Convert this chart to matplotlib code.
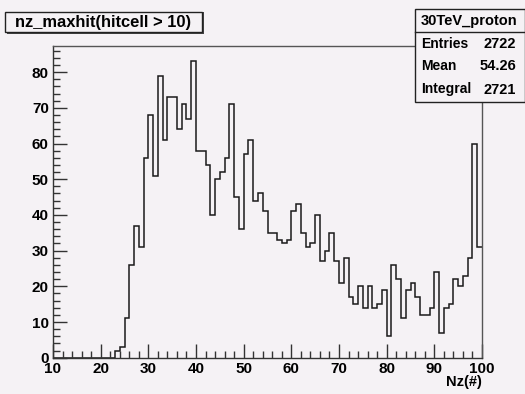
import numpy as np
import matplotlib
matplotlib.use("Agg")
import matplotlib.pyplot as plt
from matplotlib.patches import Rectangle
from matplotlib.lines import Line2D
from matplotlib.ticker import MultipleLocator

# -------- DATA --------
bin_edges = np.arange(10, 101, 1)
counts = [0] * 13 + [
    2, 3, 11, 26, 37, 31, 56, 68, 51, 79,
    61, 73, 73, 64, 71, 67, 83, 58, 58, 54,
    40, 50, 52, 56, 71, 45, 36, 57, 61, 44,
    46, 41, 35, 35, 33, 32, 33, 41, 43, 35,
    31, 32, 40, 27, 30, 35, 27, 21, 28, 17,
    15, 20, 14, 20, 14, 15, 19, 6, 26, 22,
    11, 19, 21, 17, 12, 12, 14, 24, 7, 14,
    15, 22, 20, 23, 28, 60, 31,
]
hist_title = "nz_maxhit(hitcell > 10)"
stats_name = "30TeV_proton"
stats_labels = ["Entries", "Mean", "Integral"]
stats_values = ["2722", "54.26", "2721"]
x_label = "Nz(#)"

BG = "#f5f2f5"
W, H = 525, 394
FONT = "Liberation Sans"


def fx(px):
    return px / W


def fy(py):
    return 1 - py / H


fig = plt.figure(figsize=(W / 100, H / 100), dpi=100, facecolor=BG)

# -------- HISTOGRAM --------
ax = fig.add_axes([fx(53), fy(357.7), fx(482) - fx(53), fy(45.7) - fy(357.7)])
ax.set_facecolor(BG)
ax.stairs(counts, bin_edges, color="#1a1a1a", lw=1.1, baseline=None)
ax.set_xlim(10, 100)
ax.set_ylim(0, 87.4)

for side in ["top", "right"]:
    ax.spines[side].set_color("#555555")
for side in ["left", "bottom"]:
    ax.spines[side].set_color("#333333")
for s in ax.spines.values():
    s.set_linewidth(1.0)

ax.xaxis.set_major_locator(MultipleLocator(10))
ax.xaxis.set_minor_locator(MultipleLocator(2))
ax.yaxis.set_major_locator(MultipleLocator(10))
ax.yaxis.set_minor_locator(MultipleLocator(2))
ax.tick_params(which="both", direction="in", top=False, right=False,
               color="#333333", width=1.0)
ax.tick_params(which="major", length=10)
ax.tick_params(which="minor", length=5)
ax.tick_params(axis="y", pad=3)
ax.tick_params(axis="x", pad=3)
for lab in ax.get_xticklabels() + ax.get_yticklabels():
    lab.set_fontfamily(FONT)
    lab.set_fontweight("bold")
    lab.set_fontsize(11)

fig.text(fx(482), fy(382), x_label, ha="right", va="center",
         fontsize=10.5, fontweight="bold", family=FONT)

# -------- TITLE BOX --------
fig.patches.append(Rectangle((fx(7), fy(34)), fx(204) - fx(7), fy(12) - fy(34),
                             transform=fig.transFigure, facecolor="#444444",
                             edgecolor="none"))
fig.patches.append(Rectangle((fx(5), fy(32)), fx(202) - fx(5), fy(12) - fy(32),
                             transform=fig.transFigure, facecolor=BG,
                             edgecolor="#222222", lw=1.0))
fig.text(fx(103.5), fy(22), hist_title, ha="center", va="center",
         fontsize=11.9, fontweight="bold", family=FONT)

# -------- STATS BOX --------
fig.patches.append(Rectangle((fx(415), fy(101.5)), fx(524.5) - fx(415), fy(9) - fy(101.5),
                             transform=fig.transFigure, facecolor=BG,
                             edgecolor="#222222", lw=1.0))
fig.lines.append(Line2D([fx(415), fx(525)], [fy(32), fy(32)],
                        transform=fig.transFigure, color="#222222", lw=1.0))
fig.text(fx(469), fy(20.5), stats_name, ha="center", va="center",
         fontsize=10.5, fontweight="bold", family=FONT)
for i, (lab, val) in enumerate(zip(stats_labels, stats_values)):
    yy = fy(43.5 + i * 23)
    fig.text(fx(421), yy, lab, ha="left", va="center",
             fontsize=10, fontweight="bold", family=FONT)
    fig.text(fx(516), yy, val, ha="right", va="center",
             fontsize=10.5, fontweight="bold", family=FONT)

fig.savefig("out.png", dpi=100, facecolor=BG)
